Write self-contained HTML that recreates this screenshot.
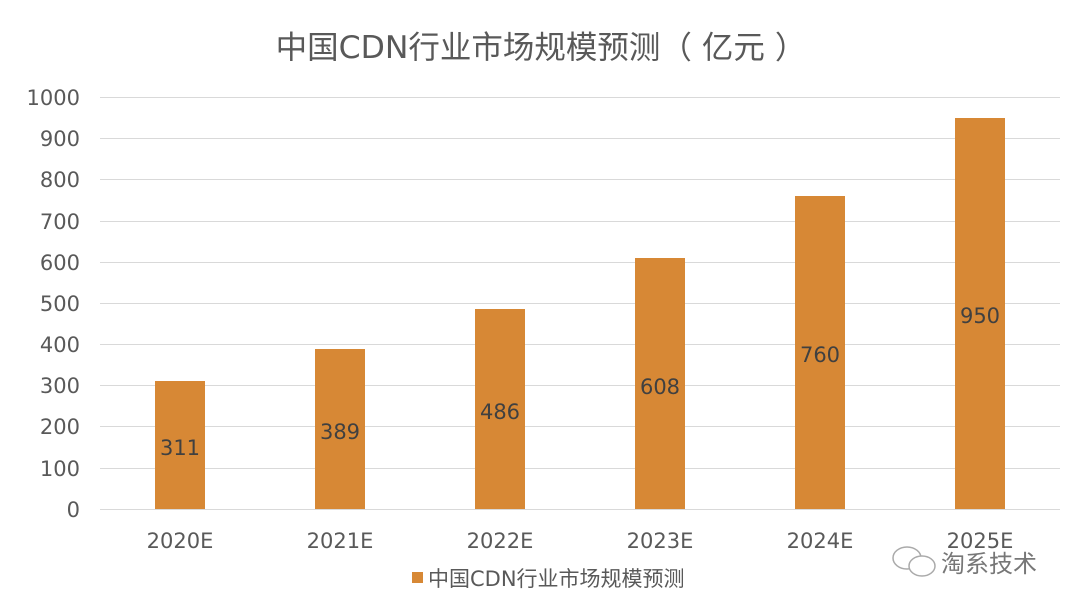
<!DOCTYPE html>
<html><head><meta charset="utf-8"><style>
html,body{margin:0;padding:0;background:#fff;}
svg{display:block;font-family:"DejaVu Sans","Noto Sans CJK SC",sans-serif;}
</style></head><body>
<svg width="1080" height="610" viewBox="0 0 1080 610" xmlns="http://www.w3.org/2000/svg">
<rect width="1080" height="610" fill="#fff"/>
<text x="541" y="58" text-anchor="middle" font-size="31.5" fill="#595959">中国CDN行业市场规模预测（ 亿元 ）</text>
<g stroke="#d9d9d9" stroke-width="1">
<line x1="100" x2="1060" y1="97.5" y2="97.5"/>
<line x1="100" x2="1060" y1="138.5" y2="138.5"/>
<line x1="100" x2="1060" y1="179.5" y2="179.5"/>
<line x1="100" x2="1060" y1="221.5" y2="221.5"/>
<line x1="100" x2="1060" y1="262.5" y2="262.5"/>
<line x1="100" x2="1060" y1="303.5" y2="303.5"/>
<line x1="100" x2="1060" y1="344.5" y2="344.5"/>
<line x1="100" x2="1060" y1="385.5" y2="385.5"/>
<line x1="100" x2="1060" y1="426.5" y2="426.5"/>
<line x1="100" x2="1060" y1="468.5" y2="468.5"/>
<line x1="100" x2="1060" y1="509.5" y2="509.5"/>
</g>
<g font-size="21" fill="#595959" text-anchor="end">
<text x="80" y="105">1000</text><text x="80" y="146">900</text><text x="80" y="187">800</text>
<text x="80" y="229">700</text><text x="80" y="270">600</text><text x="80" y="311">500</text>
<text x="80" y="352">400</text><text x="80" y="393">300</text><text x="80" y="434">200</text>
<text x="80" y="476">100</text><text x="80" y="517">0</text>
</g>
<g fill="#d78835">
<rect x="155" y="381" width="50" height="128"/>
<rect x="315" y="349" width="50" height="160"/>
<rect x="475" y="309" width="50" height="200"/>
<rect x="635" y="258" width="50" height="251"/>
<rect x="795" y="196" width="50" height="313"/>
<rect x="955" y="118" width="50" height="391"/>
</g>
<g font-size="21" fill="#404040" text-anchor="middle">
<text x="180" y="455">311</text><text x="340" y="439">389</text><text x="500" y="419">486</text>
<text x="660" y="394">608</text><text x="820" y="362">760</text><text x="980" y="323">950</text>
</g>
<g font-size="21" fill="#595959" text-anchor="middle">
<text x="180" y="548">2020E</text><text x="340" y="548">2021E</text><text x="500" y="548">2022E</text>
<text x="660" y="548">2023E</text><text x="820" y="548">2024E</text><text x="980" y="548">2025E</text>
</g>
<rect x="412" y="572" width="11" height="11" fill="#d78835"/>
<text x="428" y="586" font-size="21" fill="#595959">中国CDN行业市场规模预测</text>
<g stroke="#aaa" stroke-width="1.5" fill="#fff">
<ellipse cx="907" cy="558" rx="14" ry="11"/>
<ellipse cx="922" cy="566" rx="13" ry="10"/>
</g>
<text x="941" y="572" font-size="24" fill="#777">淘系技术</text>
</svg>
</body></html>
